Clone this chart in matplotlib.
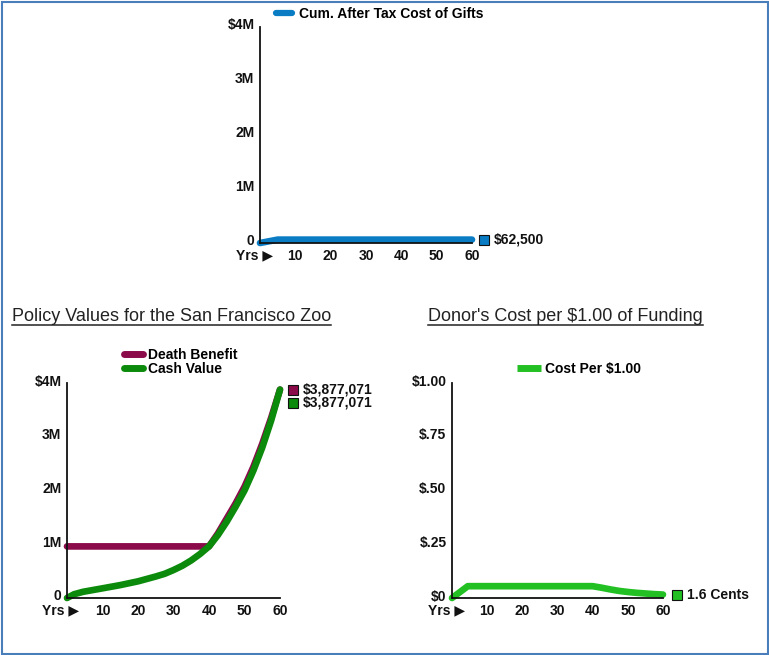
import matplotlib
matplotlib.use("Agg")
import matplotlib.pyplot as plt
import matplotlib.transforms as mtransforms
from matplotlib.lines import Line2D
from matplotlib.patches import Rectangle

plt.rcParams['font.family'] = ['Liberation Sans', 'DejaVu Sans']

# data
gift_years = [0, 1, 2, 3, 4, 5, 10, 20, 30, 40, 50, 60]
gift_cost = [0, 12500, 25000, 37500, 50000, 62500, 62500, 62500, 62500, 62500, 62500, 62500]

pol_years = [0, 2, 4.5, 10, 15, 20, 25, 27.5, 30, 32.5, 35, 37.5, 40,
             42.5, 45, 47.5, 50, 52.5, 55, 57.5, 60]
death_benefit = [960000, 960000, 960000, 960000, 960000, 960000, 960000, 960000,
                 960000, 960000, 960000, 960000, 960000,
                 1200000, 1480000, 1760000, 2070000, 2440000, 2870000, 3350000, 3877071]
cash_value = [0, 70000, 115000, 180000, 240000, 310000, 400000, 450000,
              520000, 600000, 700000, 820000, 960000,
              1170000, 1420000, 1700000, 2000000, 2370000, 2800000, 3300000, 3877071]

cost_years = [0, 4.5, 10, 20, 30, 40, 42.5, 45, 47.5, 50, 52.5, 55, 57.5, 60]
cost_per_dollar = [0, 0.055, 0.055, 0.055, 0.055, 0.055, 0.048, 0.040, 0.033,
                   0.028, 0.024, 0.021, 0.018, 0.016]

money_ticks = [0, 1e6, 2e6, 3e6, 4e6]
money_labels = ['0', '1M', '2M', '3M', '$4M']
cost_ticks = [0, 0.25, 0.5, 0.75, 1.0]
cost_labels = ['$0', '$.25', '$.50', '$.75', '$1.00']
x_ticks = [10, 20, 30, 40, 50, 60]

BLUE = '#0a7cc4'
MAROON = '#8a0a4a'
DKGREEN = '#0b8a0b'
LTGREEN = '#22c022'
INK = '#111111'
FS = 10

W, H = 769, 655
fig = plt.figure(figsize=(W / 100, H / 100), dpi=100)

def px_axes(x0, x1, y_top, y_bot):
    return fig.add_axes([x0 / W, 1 - y_bot / H, (x1 - x0) / W, (y_bot - y_top) / H])

def style(ax, yt, yl, ymax):
    for s in ['top', 'right']:
        ax.spines[s].set_visible(False)
    for s in ['left', 'bottom']:
        ax.spines[s].set_linewidth(1.3)
        ax.spines[s].set_color(INK)
    ax.set_xlim(0, 60)
    ax.set_ylim(0, ymax)
    ax.set_yticks(yt)
    ax.set_yticklabels(yl)
    ax.set_xticks(x_ticks)
    ax.set_xticklabels([str(t) for t in x_ticks])
    ax.tick_params(length=0, labelsize=FS, labelcolor=INK, pad=4)
    ax.tick_params(axis='y', pad=4)
    up = mtransforms.ScaledTranslation(0, 3 / 100, fig.dpi_scale_trans)
    for lab in ax.get_yticklabels():
        lab.set_fontweight('bold')
        lab.set_transform(lab.get_transform() + up)
    for lab in ax.get_xticklabels():
        lab.set_fontweight('bold')
    ax.annotate('Yrs \u25b6', xy=(0, 0), xycoords=('data', 'axes fraction'),
                xytext=(9, -8.8), textcoords='offset points', ha='right', va='center',
                fontsize=FS, fontweight='bold', color=INK, annotation_clip=False)

def end_label(ax, x, y, color, text, dy=0, dx_sq=12):
    tr = mtransforms.offset_copy(ax.transData, fig=fig, x=dx_sq, y=-dy, units='dots')
    ax.plot([x], [y], marker='s', markersize=6.5, markerfacecolor=color,
            markeredgecolor=INK, markeredgewidth=0.8, transform=tr, clip_on=False)
    tr2 = mtransforms.offset_copy(ax.transData, fig=fig, x=dx_sq + 10, y=-dy, units='dots')
    ax.text(x, y, text, transform=tr2, ha='left', va='center', fontsize=FS,
            fontweight='bold', color=INK, clip_on=False)

line_kw = dict(lw=4.8, solid_capstyle='round', solid_joinstyle='round', clip_on=False)

# top chart
ax1 = px_axes(260, 472, 27, 243)
style(ax1, money_ticks, money_labels, 4e6)
ax1.plot(gift_years, gift_cost, color=BLUE, **line_kw)
end_label(ax1, gift_years[-1], gift_cost[-1], BLUE, '$62,500')
fig.legend(handles=[Line2D([], [], color=BLUE, lw=4.5, solid_capstyle='round')],
           labels=['Cum. After Tax Cost of Gifts'], loc='center left',
           bbox_to_anchor=(269 / W, 1 - 14 / H), frameon=False, borderpad=0,
           handlelength=1.15, handletextpad=0.5,
           prop={'size': FS, 'weight': 'bold'})

# bottom left chart
ax2 = px_axes(67, 280, 383, 598)
style(ax2, money_ticks, money_labels, 4e6)
ax2.plot(pol_years, death_benefit, color=MAROON, **line_kw)
ax2.plot(pol_years, cash_value, color=DKGREEN, **line_kw)
end_label(ax2, pol_years[-1], death_benefit[-1], MAROON, '$3,877,071', dx_sq=13)
end_label(ax2, pol_years[-1], cash_value[-1], DKGREEN, '$3,877,071', dy=13, dx_sq=13)
fig.legend(handles=[Line2D([], [], color=MAROON, lw=5, solid_capstyle='round'),
                    Line2D([], [], color=DKGREEN, lw=5, solid_capstyle='round')],
           labels=['Death Benefit', 'Cash Value'], loc='center left',
           bbox_to_anchor=(117 / W, 1 - 362 / H), frameon=False, borderpad=0,
           handlelength=1.35, handletextpad=0.35, labelspacing=0,
           prop={'size': FS, 'weight': 'bold'})

# bottom right chart
ax3 = px_axes(452, 663, 383, 598)
style(ax3, cost_ticks, cost_labels, 1.0)
ax3.plot(cost_years, cost_per_dollar, color=LTGREEN, **line_kw)
end_label(ax3, cost_years[-1], cost_per_dollar[-1], LTGREEN, '1.6 Cents', dx_sq=14)
fig.legend(handles=[Line2D([], [], color=LTGREEN, lw=5, solid_capstyle='butt')],
           labels=['Cost Per $1.00'], loc='center left',
           bbox_to_anchor=(510 / W, 1 - 369 / H), frameon=False, borderpad=0,
           handlelength=1.7, handletextpad=0.35,
           prop={'size': FS, 'weight': 'bold'})

# underlined titles
titles = []
for x0, txt in [(12, 'Policy Values for the San Francisco Zoo'),
                (428, "Donor's Cost per $1.00 of Funding")]:
    t = fig.text(x0 / W, 1 - 321 / H, txt, ha='left', va='baseline',
                 fontsize=13, color='#222222')
    titles.append(t)

fig.canvas.draw()
r = fig.canvas.get_renderer()
for t in titles:
    bb = t.get_window_extent(r)
    fig.add_artist(Line2D([bb.x0 / W, bb.x1 / W], [1 - 325 / H, 1 - 325 / H],
                          transform=fig.transFigure, color='#222222', lw=1.1))

# blue frame
fig.add_artist(Rectangle((1.5 / W, 1.5 / H), (W - 3) / W, (H - 3) / H,
                         transform=fig.transFigure, fill=False,
                         edgecolor='#4a7ebb', lw=1.5))

fig.savefig('out.png', dpi=100)
